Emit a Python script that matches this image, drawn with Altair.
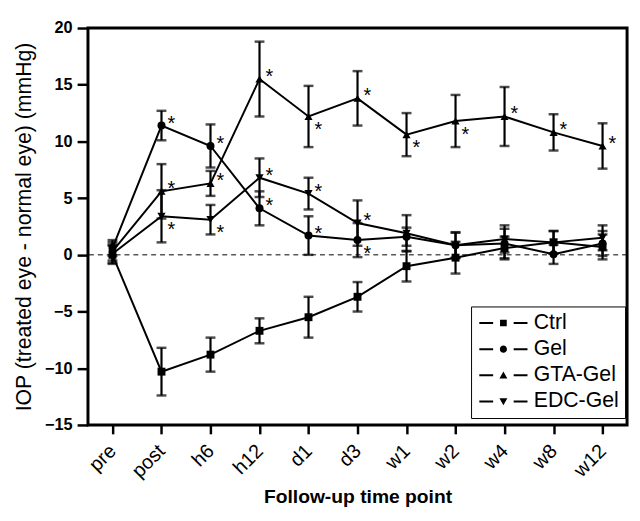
import altair as alt
import pandas as pd

times = ["pre", "post", "h6", "h12", "d1", "d3", "w1", "w2", "w4", "w8", "w12"]
groups = ["Ctrl", "Gel", "GTA-Gel", "EDC-Gel"]

ctrl_mean = [0.0, -10.3, -8.8, -6.7, -5.5, -3.7, -1.0, -0.25, 0.6, 1.1, 0.7]
ctrl_err = [0.8, 2.1, 1.5, 1.1, 1.8, 1.3, 1.35, 1.4, 1.0, 1.0, 1.1]
gel_mean = [0.6, 11.4, 9.6, 4.1, 1.7, 1.3, 1.6, 0.85, 1.0, 0.05, 1.0]
gel_err = [0.7, 1.3, 1.9, 1.5, 1.7, 1.5, 0.8, 1.1, 1.3, 0.85, 1.1]
gta_mean = [0.3, 5.6, 6.3, 15.5, 12.2, 13.8, 10.6, 11.8, 12.2, 10.8, 9.6]
gta_err = [0.8, 2.4, 1.1, 3.3, 2.7, 2.4, 1.9, 2.3, 2.6, 1.6, 2.0]
edc_mean = [0.1, 3.4, 3.1, 6.8, 5.4, 2.8, 1.9, 0.85, 1.4, 1.1, 1.5]
edc_err = [0.8, 2.3, 1.3, 1.7, 1.4, 2.0, 1.6, 1.15, 1.2, 1.0, 1.1]

# significance asterisk placement: "u" above-right, "d" below-right, "" none
ctrl_star = ["", "", "", "", "", "", "", "", "", "", ""]
gel_star = ["", "u", "u", "u", "u", "d", "", "", "", "", ""]
gta_star = ["", "u", "u", "u", "d", "u", "d", "d", "u", "u", "u"]
edc_star = ["", "d", "d", "u", "u", "u", "", "", "", "", ""]

y_ticks = [-15, -10, -5, 0, 5, 10, 15, 20]

rows = []
for g, m, e, s in zip(groups,
                      [ctrl_mean, gel_mean, gta_mean, edc_mean],
                      [ctrl_err, gel_err, gta_err, edc_err],
                      [ctrl_star, gel_star, gta_star, edc_star]):
    for t, mv, ev, sv in zip(times, m, e, s):
        rows.append({"time": t, "group": g, "mean": mv, "err": ev, "star": sv})
df = pd.DataFrame(rows)

FONT = "Liberation Sans"

x_enc = alt.X("time:N", sort=times,
              scale=alt.Scale(type="point", padding=0.5),
              axis=alt.Axis(title="Follow-up time point", labelAngle=-45,
                            labelAlign="right", labelBaseline="middle",
                            labelFontSize=20, labelPadding=14, labelColor="black",
                            titleFontSize=19.5, titleFontWeight="bold",
                            titleColor="black", titlePadding=7,
                            tickSize=9, tickWidth=2.5, tickColor="black",
                            domain=False, grid=False))
y_scale = alt.Scale(domain=[-15, 20], nice=False, zero=False)
y_axis = alt.Axis(title="IOP (treated eye - normal eye) (mmHg)", values=y_ticks,
                  labelFontSize=16.5, labelFontWeight="bold", labelColor="black",
                  labelPadding=5, titleFontSize=21.5, titleFontWeight="normal",
                  titleColor="black", titlePadding=9,
                  tickSize=11, tickWidth=2.5, tickColor="black",
                  domain=False, grid=False)

base = alt.Chart(df).encode(x=x_enc)

zero = alt.Chart(pd.DataFrame({"z": [0]})).mark_rule(
    color="black", strokeWidth=1, strokeDash=[5, 4]
).encode(y=alt.Y("z:Q", scale=y_scale, axis=y_axis))

lines = base.mark_line(color="black", strokeWidth=2).encode(
    y=alt.Y("mean:Q", scale=y_scale, axis=y_axis), detail="group:N")

err = base.transform_calculate(lo="datum.mean - datum.err", hi="datum.mean + datum.err")
bars = err.mark_rule(color="black", strokeWidth=2.2).encode(
    y="lo:Q", y2="hi:Q", detail="group:N")
cap_lo = err.mark_tick(color="black", orient="horizontal", size=10, thickness=2.5).encode(
    y="lo:Q", detail="group:N")
cap_hi = err.mark_tick(color="black", orient="horizontal", size=10, thickness=2.5).encode(
    y="hi:Q", detail="group:N")

points = base.mark_point(filled=True, color="black", opacity=1).encode(
    y="mean:Q",
    shape=alt.Shape("group:N",
                    scale=alt.Scale(domain=groups,
                                    range=["square", "circle", "triangle-up", "triangle-down"]),
                    legend=None),
    size=alt.Size("group:N", scale=alt.Scale(domain=groups, range=[64, 70, 85, 85]),
                  legend=None))

star_up = base.transform_filter("datum.star == 'u'").mark_text(
    text="*", fontSize=20, font=FONT, color="black", dx=10, dy=-2, baseline="middle"
).encode(y="mean:Q")
star_dn = base.transform_filter("datum.star == 'd'").mark_text(
    text="*", fontSize=20, font=FONT, color="black", dx=10, dy=14, baseline="middle"
).encode(y="mean:Q")

# legend symbols: line - marker - line, lines drawn as thin filled bars
# (symbol size 64 -> 4 px per path unit)
LINES = "M-6.1,-0.25H-2.6V0.25H-6.1ZM2.6,-0.25H6.1V0.25H2.6Z"
legend_paths = [
    LINES + "M-0.85,-0.85H0.85V0.85H-0.85Z",
    LINES + "M0.9,0A0.9,0.9 0 1,1 -0.9,0A0.9,0.9 0 1,1 0.9,0Z",
    LINES + "M0,-0.95L1.0,0.8L-1.0,0.8Z",
    LINES + "M0,0.95L1.0,-0.8L-1.0,-0.8Z",
]
legend_layer = base.transform_filter("false").mark_point(
    filled=True, color="black"
).encode(
    y="mean:Q",
    shape=alt.Shape("group:N",
                    scale=alt.Scale(domain=groups, range=legend_paths),
                    legend=alt.Legend(title=None, orient="none", legendX=388, legendY=282,
                                      strokeColor="black", padding=6,
                                      symbolSize=64, symbolStrokeWidth=0,
                                      symbolFillColor="black",
                                      symbolOpacity=1, symbolOffset=16,
                                      labelFontSize=21.5, labelFont=FONT, labelColor="black",
                                      labelOffset=20, rowPadding=3.5)))

chart = alt.layer(
    zero, lines, bars, cap_lo, cap_hi, points, star_up, star_dn, legend_layer
).resolve_scale(shape="independent", size="independent").properties(
    width=546, height=402,
    autosize=alt.AutoSizeParams(type="none"),
    padding={"left": 81, "top": 17, "right": 5, "bottom": 94},
).configure(font=FONT).configure_view(stroke="black", strokeWidth=3
).configure_legend(strokeWidth=1)

chart.save("out.html", embed_options={"renderer": "svg", "actions": False})
